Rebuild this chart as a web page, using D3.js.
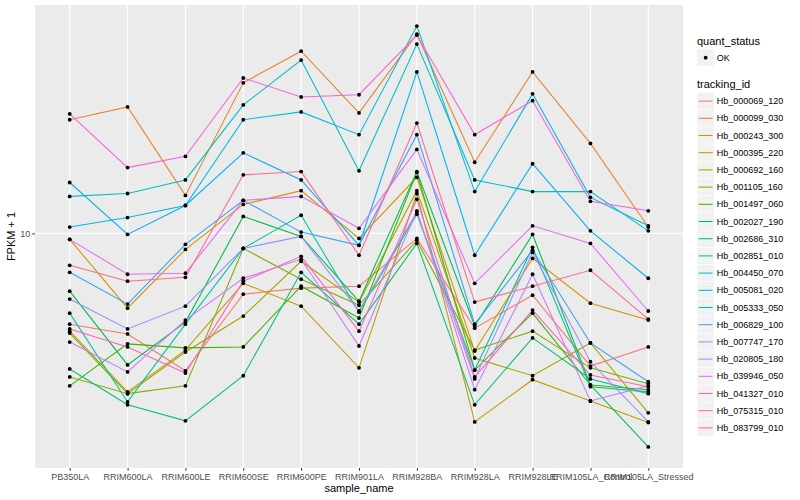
<!DOCTYPE html>
<html><head><meta charset="utf-8">
<script src="https://cdn.jsdelivr.net/npm/d3@7/dist/d3.min.js"></script>
<style>body{margin:0;background:#fff} text{font-family:"Liberation Sans",Arial,Helvetica,sans-serif}</style>
</head><body><svg id="c" width="800" height="500"></svg>
<script>
const samples = ["PB350LA","RRIM600LA","RRIM600LE","RRIM600SE","RRIM600PE","RRIM901LA","RRIM928BA","RRIM928LA","RRIM928LE","RRIM105LA_Control","RRIM105LA_Stressed"];
const trackingIds = ["Hb_000069_120","Hb_000099_030","Hb_000243_300","Hb_000395_220","Hb_000692_160","Hb_001105_160","Hb_001497_060","Hb_002027_190","Hb_002686_310","Hb_002851_010","Hb_004450_070","Hb_005081_020","Hb_005333_050","Hb_006829_100","Hb_007747_170","Hb_020805_180","Hb_039946_050","Hb_041327_010","Hb_075315_010","Hb_083799_010"];
const seriesColors = ["#F8766D","#EA8331","#D89000","#C09B00","#A3A500","#7CAE00","#39B600","#00BB4E","#00BF7D","#00C1A3","#00BFC4","#00BAE0","#00B0F6","#35A2FF","#9590FF","#C77CFF","#E76BF3","#FA62DB","#FF62BC","#FF6C90"];
const quantStatus = ["OK"];
const yTicks = [10];

// FPKM + 1 per sample (order of samples)
const Hb_000069_120 = [4.97, 4.61, 3.47, 6.26, 6.56, 6.66, 9.62, 4.82, 6.21, 3.60, 4.17];
const Hb_000099_030 = [24.0, 26.5, 13.4, 31.9, 40.7, 25.3, 46.4, 17.3, 34.7, 20.0, 10.5];
const Hb_000243_300 = [9.55, 5.62, 8.84, 12.5, 13.9, 9.62, 15.4, 4.04, 8.25, 5.84, 5.13];
const Hb_000395_220 = [4.71, 2.95, 4.07, 6.81, 5.71, 3.55, 13.6, 2.34, 3.24, 2.75, 2.33];
const Hb_000692_160 = [3.31, 2.91, 4.01, 5.29, 8.07, 5.89, 13.9, 3.83, 3.34, 4.30, 2.51];
const Hb_001105_160 = [4.64, 2.91, 3.09, 8.91, 7.03, 5.75, 9.48, 4.07, 4.71, 3.55, 3.14];
const Hb_001497_060 = [3.09, 4.27, 4.14, 4.17, 6.66, 5.21, 16.0, 3.49, 5.41, 3.11, 3.00];
const Hb_002027_190 = [6.41, 3.63, 5.05, 11.4, 9.77, 5.93, 16.1, 4.90, 9.92, 3.11, 1.93];
const Hb_002686_310 = [3.52, 2.67, 2.36, 3.34, 7.41, 4.97, 9.26, 2.67, 4.47, 3.26, 2.91];
const Hb_002851_010 = [5.41, 2.73, 4.97, 8.91, 11.5, 5.45, 11.6, 3.49, 8.98, 3.07, 2.95];
const Hb_004450_070 = [13.3, 13.6, 15.1, 26.9, 38.0, 16.2, 43.0, 15.1, 13.8, 13.8, 10.2];
const Hb_005081_020 = [10.5, 11.3, 12.4, 24.0, 25.5, 21.4, 49.4, 13.8, 29.3, 13.2, 10.6];
const Hb_005333_050 = [14.8, 9.92, 12.4, 18.6, 15.1, 9.12, 34.7, 8.45, 17.1, 10.2, 7.08];
const Hb_006829_100 = [7.41, 5.80, 9.19, 12.9, 10.1, 9.12, 21.4, 4.97, 8.78, 4.30, 3.19];
const Hb_007747_170 = [6.03, 4.79, 5.71, 8.91, 9.77, 5.50, 11.8, 3.26, 8.64, 3.72, 2.34];
const Hb_020805_180 = [4.33, 3.44, 5.13, 7.08, 8.19, 4.20, 11.9, 3.00, 7.30, 2.75, 3.09];
const Hb_039946_050 = [9.55, 7.30, 7.36, 12.9, 13.3, 10.4, 19.1, 6.81, 10.6, 9.26, 5.50];
const Hb_041327_010 = [25.1, 16.6, 18.1, 33.1, 28.6, 29.1, 46.1, 21.4, 27.8, 12.8, 11.9];
const Hb_075315_010 = [4.79, 4.17, 3.41, 6.92, 8.38, 4.71, 13.0, 3.31, 5.54, 3.36, 3.07];
const Hb_083799_010 = [7.82, 6.92, 7.13, 15.7, 16.1, 8.45, 23.4, 5.89, 6.66, 7.53, 5.17];

const seriesValues = [Hb_000069_120,Hb_000099_030,Hb_000243_300,Hb_000395_220,Hb_000692_160,Hb_001105_160,Hb_001497_060,Hb_002027_190,Hb_002686_310,Hb_002851_010,Hb_004450_070,Hb_005081_020,Hb_005333_050,Hb_006829_100,Hb_007747_170,Hb_020805_180,Hb_039946_050,Hb_041327_010,Hb_075315_010,Hb_083799_010];

const series = trackingIds.map((id, i) => ({id, color: seriesColors[i],
  pts: samples.map((s, j) => ({s, v: seriesValues[i][j]}))}));

const svg = d3.select("#c");
const P = {l: 35, r: 683, t: 5, b: 468};

const x = d3.scalePoint().domain(samples).range([P.l, P.r]).padding(0.6);
const all = seriesValues.flat();
const [mn, mx] = d3.extent(all);
const lmn = Math.log10(mn), lmx = Math.log10(mx), pad = (lmx - lmn) * 0.05;
const y = d3.scaleLog().domain([10 ** (lmn - pad), 10 ** (lmx + pad)]).range([P.b, P.t]);

// panel
svg.append("rect").attr("x", P.l).attr("y", P.t).attr("width", P.r - P.l).attr("height", P.b - P.t).attr("fill", "#EBEBEB");
const grid = svg.append("g").attr("stroke", "#fff").attr("stroke-width", 1.07);
grid.selectAll(".gx").data(samples).join("line")
  .attr("x1", d => x(d)).attr("x2", d => x(d)).attr("y1", P.t).attr("y2", P.b);
grid.selectAll(".gy").data(yTicks).join("line")
  .attr("x1", P.l).attr("x2", P.r).attr("y1", d => y(d)).attr("y2", d => y(d));

// lines
const line = d3.line().x(d => x(d.s)).y(d => y(d.v));
svg.append("g").selectAll("path").data(series).join("path")
  .attr("d", d => line(d.pts)).attr("fill", "none").attr("stroke", d => d.color).attr("stroke-width", 1.07);
// points
svg.append("g").selectAll("g").data(series).join("g").selectAll("circle").data(d => d.pts).join("circle")
  .attr("cx", d => x(d.s)).attr("cy", d => y(d.v)).attr("r", 1.9).attr("fill", "#000");

// axes
const xAxis = d3.axisBottom(x).tickSize(2.75).tickPadding(2.5);
const gx = svg.append("g").attr("transform", `translate(0,${P.b})`).call(xAxis);
gx.select(".domain").remove();
gx.selectAll(".tick line").attr("stroke", "#333333");
gx.selectAll(".tick text").attr("fill", "#4D4D4D").style("font-size", "9px").attr("font-family", "Liberation Sans, Arial, sans-serif");

const yAxis = d3.axisLeft(y).tickValues(yTicks).tickFormat(d3.format("d")).tickSize(2.75).tickPadding(2);
const gy = svg.append("g").attr("transform", `translate(${P.l},0)`).call(yAxis);
gy.select(".domain").remove();
gy.selectAll(".tick line").attr("stroke", "#333333");
gy.selectAll(".tick text").attr("fill", "#4D4D4D").style("font-size", "9px").attr("font-family", "Liberation Sans, Arial, sans-serif");

svg.append("text").attr("x", (P.l + P.r) / 2).attr("y", 492).attr("text-anchor", "middle")
  .style("font-size", "11px").text("sample_name");
svg.append("text").attr("transform", `translate(15,${(P.t + P.b) / 2}) rotate(-90)`).attr("text-anchor", "middle")
  .style("font-size", "11px").text("FPKM + 1");

// legend
const LX = 697, K = 17.28;
svg.append("text").attr("x", LX).attr("y", 45).style("font-size", "11px").text("quant_status");
const q = svg.append("g").selectAll("g").data(quantStatus).join("g").attr("transform", (d, i) => `translate(${LX},${49 + i * K})`);
q.append("rect").attr("width", K).attr("height", K).attr("fill", "#F2F2F2").attr("stroke", "#fff").attr("stroke-width", 0.5);
q.append("circle").attr("cx", K / 2).attr("cy", K / 2).attr("r", 1.9).attr("fill", "#000");
q.append("text").attr("x", K + 2.5).attr("y", K / 2 + 3.2).style("font-size", "9px").text(d => d);

svg.append("text").attr("x", LX).attr("y", 88).style("font-size", "11px").text("tracking_id");
const kg = svg.append("g").selectAll("g").data(series).join("g")
  .attr("transform", (d, i) => `translate(${LX},${92.5 + i * 17.2})`);
kg.append("rect").attr("width", K).attr("height", 17.2).attr("fill", "#F2F2F2").attr("stroke", "#fff").attr("stroke-width", 0.5);
kg.append("line").attr("x1", 1.7).attr("x2", K - 1.7).attr("y1", 8.6).attr("y2", 8.6).attr("stroke", d => d.color).attr("stroke-width", 1.07);
kg.append("text").attr("x", K + 2.5).attr("y", 8.6 + 3.2).style("font-size", "9px").text(d => d.id);
</script></body></html>
